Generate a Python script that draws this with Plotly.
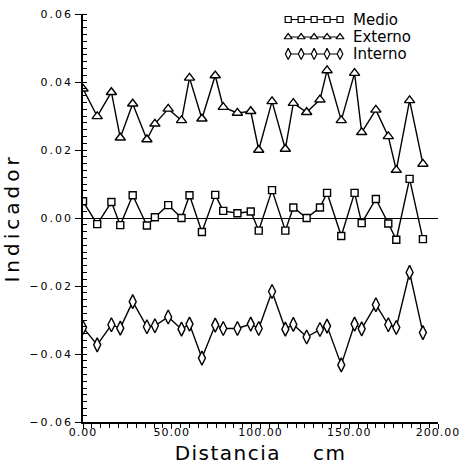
import plotly.graph_objects as go

# Distance (cm) of each measuring point
distancia = [0, 8, 16, 21, 28, 36, 40.5, 48, 55.5, 60, 67, 74.5, 79, 87, 94.5,
             99, 106.5, 114, 118.5, 126, 133.5, 137.5, 145.5, 153, 157, 165,
             172, 176.5, 184, 191.5]

medio = [0.0049, -0.0018, 0.0047, -0.0021, 0.0067, -0.0022, 0.0002, 0.0038,
         0.0000, 0.0067, -0.0041, 0.0068, 0.0021, 0.0014, 0.0019, -0.0037,
         0.0082, -0.0037, 0.0031, 0.0000, 0.0031, 0.0074, -0.0053, 0.0074,
         -0.0015, 0.0056, -0.0016, -0.0064, 0.0115, -0.0062]

externo = [0.0380, 0.0299, 0.0370, 0.0236, 0.0336, 0.0231, 0.0277, 0.0321,
           0.0287, 0.0412, 0.0292, 0.0419, 0.0326, 0.0309, 0.0314, 0.0200,
           0.0343, 0.0203, 0.0338, 0.0311, 0.0348, 0.0434, 0.0287, 0.0426,
           0.0252, 0.0318, 0.0240, 0.0141, 0.0346, 0.0159]

interno = [-0.0322, -0.0373, -0.0314, -0.0324, -0.0246, -0.0320, -0.0317,
           -0.0291, -0.0327, -0.0312, -0.0412, -0.0315, -0.0325, -0.0325,
           -0.0312, -0.0325, -0.0216, -0.0327, -0.0313, -0.0350, -0.0328,
           -0.0318, -0.0432, -0.0312, -0.0326, -0.0255, -0.0314, -0.0322,
           -0.0160, -0.0337]

x_ticks = [0, 50, 100, 150, 200]
y_ticks = [-0.06, -0.04, -0.02, 0, 0.02, 0.04, 0.06]

series_names = ["Medio", "Externo", "Interno"]
series_values = [medio, externo, interno]
symbols = ["square", "triangle-up", "diamond-tall"]
sizes = [7, 9, 10]
legend_sizes = [6, 7, 8]

FONT = "DejaVu Sans"


def spaced(txt, px):
    return f"<span style='letter-spacing:{px}px'>{txt}</span>"


fig = go.Figure()
for name, vals, sym, size in zip(series_names, series_values, symbols, sizes):
    fig.add_trace(go.Scatter(
        x=distancia, y=vals, name=name, mode="lines+markers",
        line=dict(color="black", width=1.4),
        marker=dict(symbol=sym, size=size, color="white",
                    line=dict(color="black", width=1.4)),
        showlegend=False,
    ))

# Hand-drawn legend (5 linked markers per entry) on an overlay axis in
# plot-fraction units, as in the original figure.
leg_x0, leg_x1, leg_text_x = 0.578, 0.724, 0.758
leg_rows = [0.9865, 0.9436, 0.902]
for name, sym, size, row in zip(series_names, symbols, legend_sizes, leg_rows):
    xs = [leg_x0 + i * (leg_x1 - leg_x0) / 4 for i in range(5)]
    fig.add_trace(go.Scatter(
        x=xs, y=[row] * 5, xaxis="x2", yaxis="y2", mode="lines+markers",
        line=dict(color="black", width=1.2),
        marker=dict(symbol=sym, size=size, color="white",
                    line=dict(color="black", width=1.2)),
        showlegend=False, hoverinfo="skip",
    ))
    fig.add_annotation(x=leg_text_x, y=row, xref="x2", yref="y2", text=name,
                       showarrow=False, xanchor="left", yanchor="middle",
                       borderpad=0,
                       font=dict(family=FONT, size=15, color="black"))

fig.update_layout(
    width=459, height=465,
    margin=dict(l=83, r=21, t=14, b=43),
    paper_bgcolor="white", plot_bgcolor="white",
    font=dict(family=FONT, color="black", size=12),
    showlegend=False,
    xaxis2=dict(overlaying="x", range=[0, 1], visible=False),
    yaxis2=dict(overlaying="y", range=[0, 1], visible=False),
)

fig.layout.xaxis.update(
    range=[0, 200], tickvals=x_ticks,
    ticktext=[spaced(f"{v:.2f}", 1) for v in x_ticks],
    ticklabeloverflow="allow", ticklabelstandoff=-6,
    showline=True, linecolor="black", linewidth=1.5,
    showgrid=False, zeroline=False, automargin=False,
    ticks="outside", ticklen=5, tickwidth=1.3, tickcolor="black",
    minor=dict(dtick=5, ticks="outside", ticklen=4, tickwidth=1, tickcolor="black"),
    tickfont=dict(family=FONT, size=11),
    title=dict(text=spaced("Distancia", 1.5) + "\u00a0" * 5 + spaced("cm", 1.5),
               font=dict(family=FONT, size=20), standoff=8),
)

fig.layout.yaxis.update(
    range=[-0.06, 0.06], tickvals=y_ticks,
    ticktext=[spaced(f"{v:.2f}".replace("-", "\u2212"), 2) for v in y_ticks],
    showline=True, linecolor="black", linewidth=1.5,
    showgrid=False, zeroline=True, zerolinecolor="black", zerolinewidth=1,
    automargin=False,
    ticks="outside", ticklen=6, tickwidth=1.3, tickcolor="black",
    minor=dict(dtick=0.002, ticks="inside", ticklen=4, tickwidth=1, tickcolor="black"),
    tickfont=dict(family=FONT, size=11),
    title=dict(text=spaced("Indicador", 4), font=dict(family=FONT, size=20),
               standoff=12),
)

fig.write_html("out.html")
